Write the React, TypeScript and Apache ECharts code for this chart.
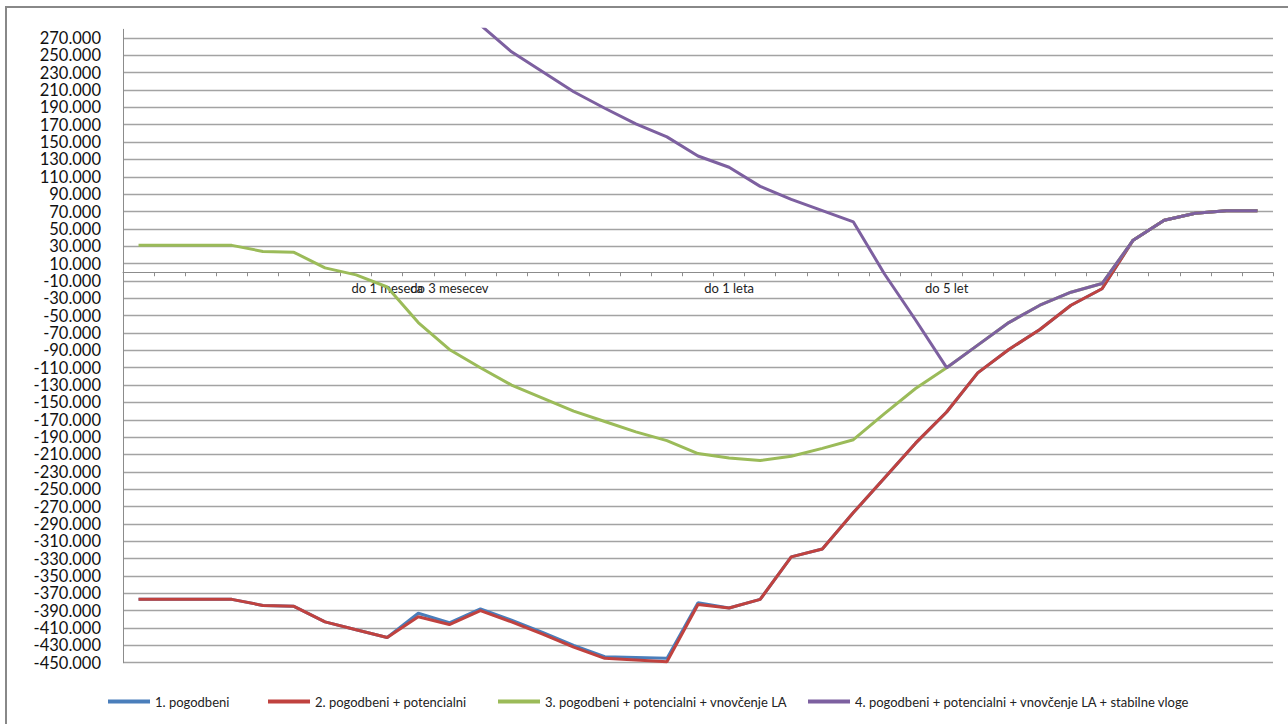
import React, { useEffect, useRef } from "react";
import * as echarts from "echarts";

const categories = [
  "", "", "", "", "", "", "", "", "do 1 meseca", "",
  "do 3 mesecev", "", "", "", "", "", "", "", "", "do 1 leta",
  "", "", "", "", "", "", "do 5 let", "", "", "",
  "", "", "", "", "", "", "",
];

const seriesNames = [
  "1. pogodbeni",
  "2. pogodbeni + potencialni",
  "3. pogodbeni + potencialni + vnovčenje LA",
  "4. pogodbeni + potencialni + vnovčenje LA + stabilne vloge",
];

const pogodbeni = [
  -377000, -377000, -377000, -377000, -384000, -385000, -403000, -412000, -421000, -393000,
  -404000, -388000, -401000, -415000, -430000, -443000, -444000, -445000, -381000, -387000,
  -377000, -328000, -319000, -277000, -237000, -197000, -161000, -116000, -89000, -66000,
  -38000, -19000, 37000, 60000, 68000, 71000, 71000,
];

const potencialni = [
  -377000, -377000, -377000, -377000, -384000, -385000, -403000, -412000, -421000, -397000,
  -406000, -390000, -403000, -417000, -432000, -445000, -447000, -449000, -383000, -387000,
  -377000, -328000, -319000, -277000, -237000, -197000, -161000, -116000, -89000, -66000,
  -38000, -19000, 37000, 60000, 68000, 71000, 71000,
];

const vnovcenjeLA = [
  31000, 31000, 31000, 31000, 24000, 23000, 5000, -3000, -17000, -58000,
  -89000, -110000, -130000, -145000, -160000, -172000, -184000, -194000, -209000, -214000,
  -217000, -212000, -203000, -193000, -163000, -134000, -110000, -84000, -58000, -38000,
  -23000, -13000, 37000, 60000, 68000, 71000, 71000,
];

const stabilneVloge = [
  431000, 431000, 431000, 431000, 424000, 423000, 405000, 395000, 381000, 338000,
  306000, 285000, 254000, 231000, 208000, 189000, 171000, 156000, 134000, 121000,
  99000, 84000, 71000, 58000, -2000, -55000, -110000, -84000, -58000, -38000,
  -23000, -13000, 37000, 60000, 68000, 71000, 71000,
];

const yMin = -450000;
const yMax = 280000;
const yStep = 20000;
const yTickValues: number[] = [];
for (let v = yMin; v <= 270000; v += yStep) yTickValues.push(v);

const colors = ["#4A7EBB", "#C0423F", "#9BBB59", "#7D60A0"];
const legendLefts = [108, 268, 498, 808];

function fmt(v: number): string {
  const neg = v < 0;
  const a = Math.abs(Math.round(v));
  const s = String(a).replace(/\B(?=(\d{3})+(?!\d))/g, ".");
  return (neg ? "-" : "") + s;
}

const W = 1288;
const H = 724;
const gridTop = 29.3;
const gridBottom = 61.3;

export default function App() {
  const ref = useRef<HTMLDivElement>(null);
  useEffect(() => {
    document.body.style.margin = "0";
    if (!ref.current) return;
    const chart = echarts.init(ref.current, null, { renderer: "svg" });
    const data = [pogodbeni, potencialni, vnovcenjeLA, stabilneVloge];
    const font = "Lato";
    const gridH = H - gridTop - gridBottom;
    // place the category axis where the value axis crosses zero
    const zeroOffset = -((0 - yMin) / (yMax - yMin)) * gridH;
    chart.setOption({
      animation: false,
      backgroundColor: "#ffffff",
      textStyle: { fontFamily: font },
      grid: {
        left: 123,
        right: 15,
        top: gridTop,
        bottom: gridBottom,
        containLabel: false,
        outerBoundsMode: "none",
      },
      legend: seriesNames.map((n, i) => ({
        data: [n],
        left: legendLefts[i],
        top: 695,
        orient: "horizontal",
        icon: "rect",
        itemWidth: 42,
        itemHeight: 4,
        itemGap: 0,
        itemTextGap: 3,
        padding: 0,
        textStyle: { fontFamily: font, fontSize: 13, color: "#222" },
      })),
      xAxis: {
        type: "category",
        data: categories,
        boundaryGap: true,
        position: "bottom",
        offset: zeroOffset,
        axisLine: { onZero: false, lineStyle: { color: "#8c8c8c", width: 1 } },
        axisTick: { show: true, length: 4, lineStyle: { color: "#8c8c8c" }, interval: 0 },
        axisLabel: {
          interval: 0,
          margin: 9,
          fontFamily: font,
          fontSize: 13,
          color: "#222",
        },
        splitLine: { show: false },
      },
      yAxis: {
        type: "value",
        min: yMin,
        max: yMax,
        axisLine: { show: true, lineStyle: { color: "#8c8c8c", width: 1 } },
        axisTick: { show: false, customValues: yTickValues },
        axisLabel: {
          customValues: yTickValues,
          formatter: (v: number) => fmt(v),
          fontFamily: font,
          fontSize: 16.5,
          lineHeight: 17,
          color: "#111",
          margin: 22,
        },
        splitLine: { show: true, lineStyle: { color: "#a3a3a3", width: 1.3 } },
      },
      series: data.map((d, i) => ({
        name: seriesNames[i],
        type: "line",
        data: d,
        symbol: "none",
        showSymbol: false,
        clip: true,
        lineStyle: { color: colors[i], width: 3 },
        itemStyle: { color: colors[i] },
        z: 2 + i,
      })),
      graphic: [
        { type: "line", shape: { x1: 5, y1: 7, x2: W, y2: 7 }, style: { stroke: "#888", lineWidth: 2 } },
        { type: "line", shape: { x1: 6, y1: 6, x2: 6, y2: H }, style: { stroke: "#888", lineWidth: 2 } },
      ],
    });
    return () => chart.dispose();
  }, []);
  return <div ref={ref} style={{ width: W, height: H }} />;
}
